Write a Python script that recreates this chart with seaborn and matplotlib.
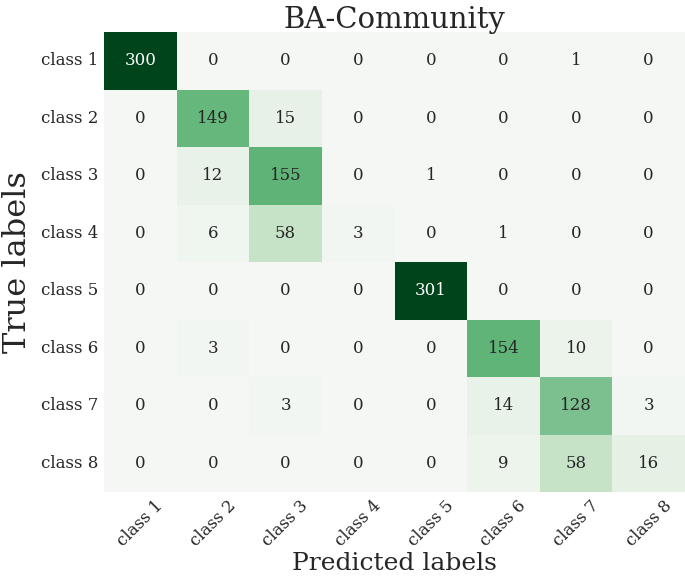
import numpy as np
import matplotlib
matplotlib.use('Agg')
import matplotlib.pyplot as plt
from matplotlib.colors import LinearSegmentedColormap
import seaborn as sns

classes = [f"class {i}" for i in range(1, 9)]
conf = np.array([
    [300, 0, 0, 0, 0, 0, 1, 0],
    [0, 149, 15, 0, 0, 0, 0, 0],
    [0, 12, 155, 0, 1, 0, 0, 0],
    [0, 6, 58, 3, 0, 1, 0, 0],
    [0, 0, 0, 0, 301, 0, 0, 0],
    [0, 3, 0, 0, 0, 154, 10, 0],
    [0, 0, 3, 0, 0, 14, 128, 3],
    [0, 0, 0, 0, 0, 9, 58, 16],
])

# slightly muted greens
cmap = LinearSegmentedColormap.from_list('muted_greens', [
    (0.00, '#f4f7f4'),
    (0.05, '#e6f1e6'),
    (0.19, '#c7e3c9'),
    (0.425, '#7dc08f'),
    (0.50, '#63b67a'),
    (0.75, '#22874a'),
    (1.00, '#00441b'),
])

sns.set_theme(style='white')
plt.rcParams['font.family'] = ['DejaVu Serif']

fig = plt.figure(figsize=(6.85, 5.77), dpi=100)
ax = fig.add_axes([104 / 685, 85 / 577, 581 / 685, 460 / 577])

sns.heatmap(conf, ax=ax, annot=True, fmt='d', cmap=cmap, cbar=False,
            vmin=0, vmax=301,
            xticklabels=classes, yticklabels=classes,
            annot_kws={'size': 12})

# only the darkest cells get white numbers
for t in ax.texts:
    t.set_color('white' if int(t.get_text()) > 250 else '#262626')

ax.set_title('BA-Community', fontsize=21, pad=3)
ax.set_xlabel('Predicted labels', fontsize=18, labelpad=2)
ax.set_ylabel('True labels', fontsize=23, labelpad=6)
ax.tick_params(axis='both', length=0, labelsize=12)
ax.tick_params(axis='y', pad=4)
plt.setp(ax.get_xticklabels(), rotation=45, ha='center')
plt.setp(ax.get_yticklabels(), rotation=0)

fig.savefig('out.png', dpi=100)
